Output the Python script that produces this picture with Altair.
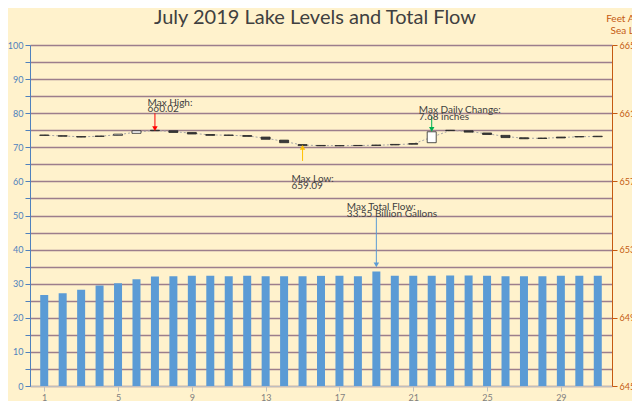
import pandas as pd
import altair as alt

days = list(range(1, 32))
flow = [26.7, 27.2, 28.2, 29.5, 30.1, 31.3, 32.1, 32.2, 32.3, 32.3, 32.2, 32.3, 32.2, 32.2, 32.2, 32.3,
        32.3, 32.2, 33.55, 32.3, 32.3, 32.3, 32.4, 32.4, 32.3, 32.2, 32.2, 32.2, 32.3, 32.3, 32.3]
lvl_open = [659.72, 659.68, 659.63, 659.66, 659.70, 659.82, 660.00, 659.97, 659.87, 659.75, 659.72,
            659.69, 659.60, 659.42, 659.16, 659.11, 659.10, 659.11, 659.13, 659.17, 659.22, 659.27,
            660.00, 659.97, 659.84, 659.70, 659.56, 659.54, 659.60, 659.63, 659.65]
lvl_close = [659.70, 659.65, 659.60, 659.64, 659.77, 659.97, 659.97, 659.87, 659.78, 659.70, 659.70,
             659.64, 659.47, 659.27, 659.10, 659.09, 659.09, 659.10, 659.11, 659.14, 659.18, 659.91,
             659.98, 659.89, 659.75, 659.57, 659.50, 659.52, 659.55, 659.61, 659.62]

notes = pd.DataFrame({
    "day": [6.6, 6.6, 14.4, 14.4, 21.3, 21.3, 17.4, 17.4],
    "ft": [661.62, 661.22, 657.15, 656.75, 661.2, 660.8, 655.5, 655.1],
    "label": ["Max High:", "660.02", "Max Low:", "659.09", "Max Daily Change:", "7.68 inches",
              "Max Total Flow:", "33.55 Billion Gallons"],
})
arrows = pd.DataFrame({
    "day": [7, 15, 22, 19],
    "y0": [661.0, 658.2, 660.8, 654.9],
    "y1": [660.1, 659.0, 660.05, 652.1],
    "color": ["#FF0000", "#FFC000", "#00B050", "#5B9BD5"],
    "shape": ["triangle-down", "triangle-up", "triangle-down", "triangle-down"],
})

df = pd.DataFrame({"day": days, "flow": flow, "open": lvl_open, "close": lvl_close})
df["up"] = df["close"] > df["open"]
df["mid"] = (df["open"] + df["close"]) / 2

grid = "#9C7E8C"
xs = alt.Scale(domain=[0.5, 31.5], nice=False, zero=False)
xenc = alt.X("day:Q", title=None, scale=xs,
             axis=alt.Axis(values=days, grid=False, labelColor="#7F7F7F", domainColor="#BFBFBF",
                           tickColor="#BFBFBF", labelFontSize=9, labelOverlap=False, labelFlush=False))

bars = alt.Chart(df).mark_bar(size=8, color="#5B9BD5").encode(
    x=xenc,
    y=alt.Y("flow:Q", title=None, scale=alt.Scale(domain=[0, 100]),
            axis=alt.Axis(values=list(range(0, 101, 5)), labelExpr="datum.value % 10 == 0 ? datum.label : ''",
                          labelColor="#4F81BD", tickColor="#4F81BD", domainColor="#4F81BD",
                          gridColor=grid, gridWidth=1.3, labelFontSize=9, labelOverlap=False)),
)

yft = alt.Scale(domain=[645, 665])
ryax = alt.Axis(orient="right", values=list(range(645, 666)), labelColor="#C55A11", tickColor="#C55A11",
                domainColor="#C55A11", grid=False, labelFontSize=9, labelOverlap=False)

line = alt.Chart(df).mark_line(color="#A6A6A6", strokeDash=[2, 2], strokeWidth=1).encode(
    x=alt.X("day:Q", scale=xs), y=alt.Y("mid:Q", title=None, scale=yft, axis=ryax))
candles = alt.Chart(df).mark_bar(size=9, stroke="#262626", strokeWidth=0.8).encode(
    x="day:Q", y=alt.Y("open:Q", scale=yft), y2="close:Q",
    color=alt.condition("datum.up", alt.value("#FFFFFF"), alt.value("#3B3B3B")))

ar_rule = alt.Chart(arrows).mark_rule(strokeWidth=1).encode(
    x="day:Q", y=alt.Y("y0:Q", scale=yft), y2="y1:Q", color=alt.Color("color:N", scale=None))
ar_head = alt.Chart(arrows).mark_point(filled=True, size=30, opacity=1).encode(
    x="day:Q", y=alt.Y("y1:Q", scale=yft), color=alt.Color("color:N", scale=None),
    shape=alt.Shape("shape:N", scale=None))

text = alt.Chart(notes).mark_text(align="left", font="Lato", fontSize=10, color="#404040").encode(
    x="day:Q", y=alt.Y("ft:Q", scale=yft), text="label:N")

right = alt.layer(line, candles, ar_rule, ar_head, text)

sub = alt.Chart(pd.DataFrame({"t": ["Feet Above\nSea Level"]})).mark_text(
    align="center", baseline="top", lineBreak="\n", font="Lato", fontSize=10, color="#C55A11").encode(
    x=alt.value(601), y=alt.value(-31), text="t:N")
title = alt.Chart(pd.DataFrame({"t": ["July 2019 Lake Levels and Total Flow"]})).mark_text(
    align="center", baseline="middle", font="Lato", fontSize=20, color="#404040").encode(
    x=alt.value(285), y=alt.value(-27), text="t:N")

chart = alt.layer(bars, right, sub, title).resolve_scale(y="independent").properties(
    width=582, height=341, background="#FFF2CC", autosize=alt.AutoSizeParams(type="none"),
    padding={"left": 22, "top": 37, "right": 20, "bottom": 15},
).configure_view(strokeWidth=0).configure_axis(labelFont="Lato")

chart.save("out.html", embed_options={"renderer": "svg", "actions": False})
